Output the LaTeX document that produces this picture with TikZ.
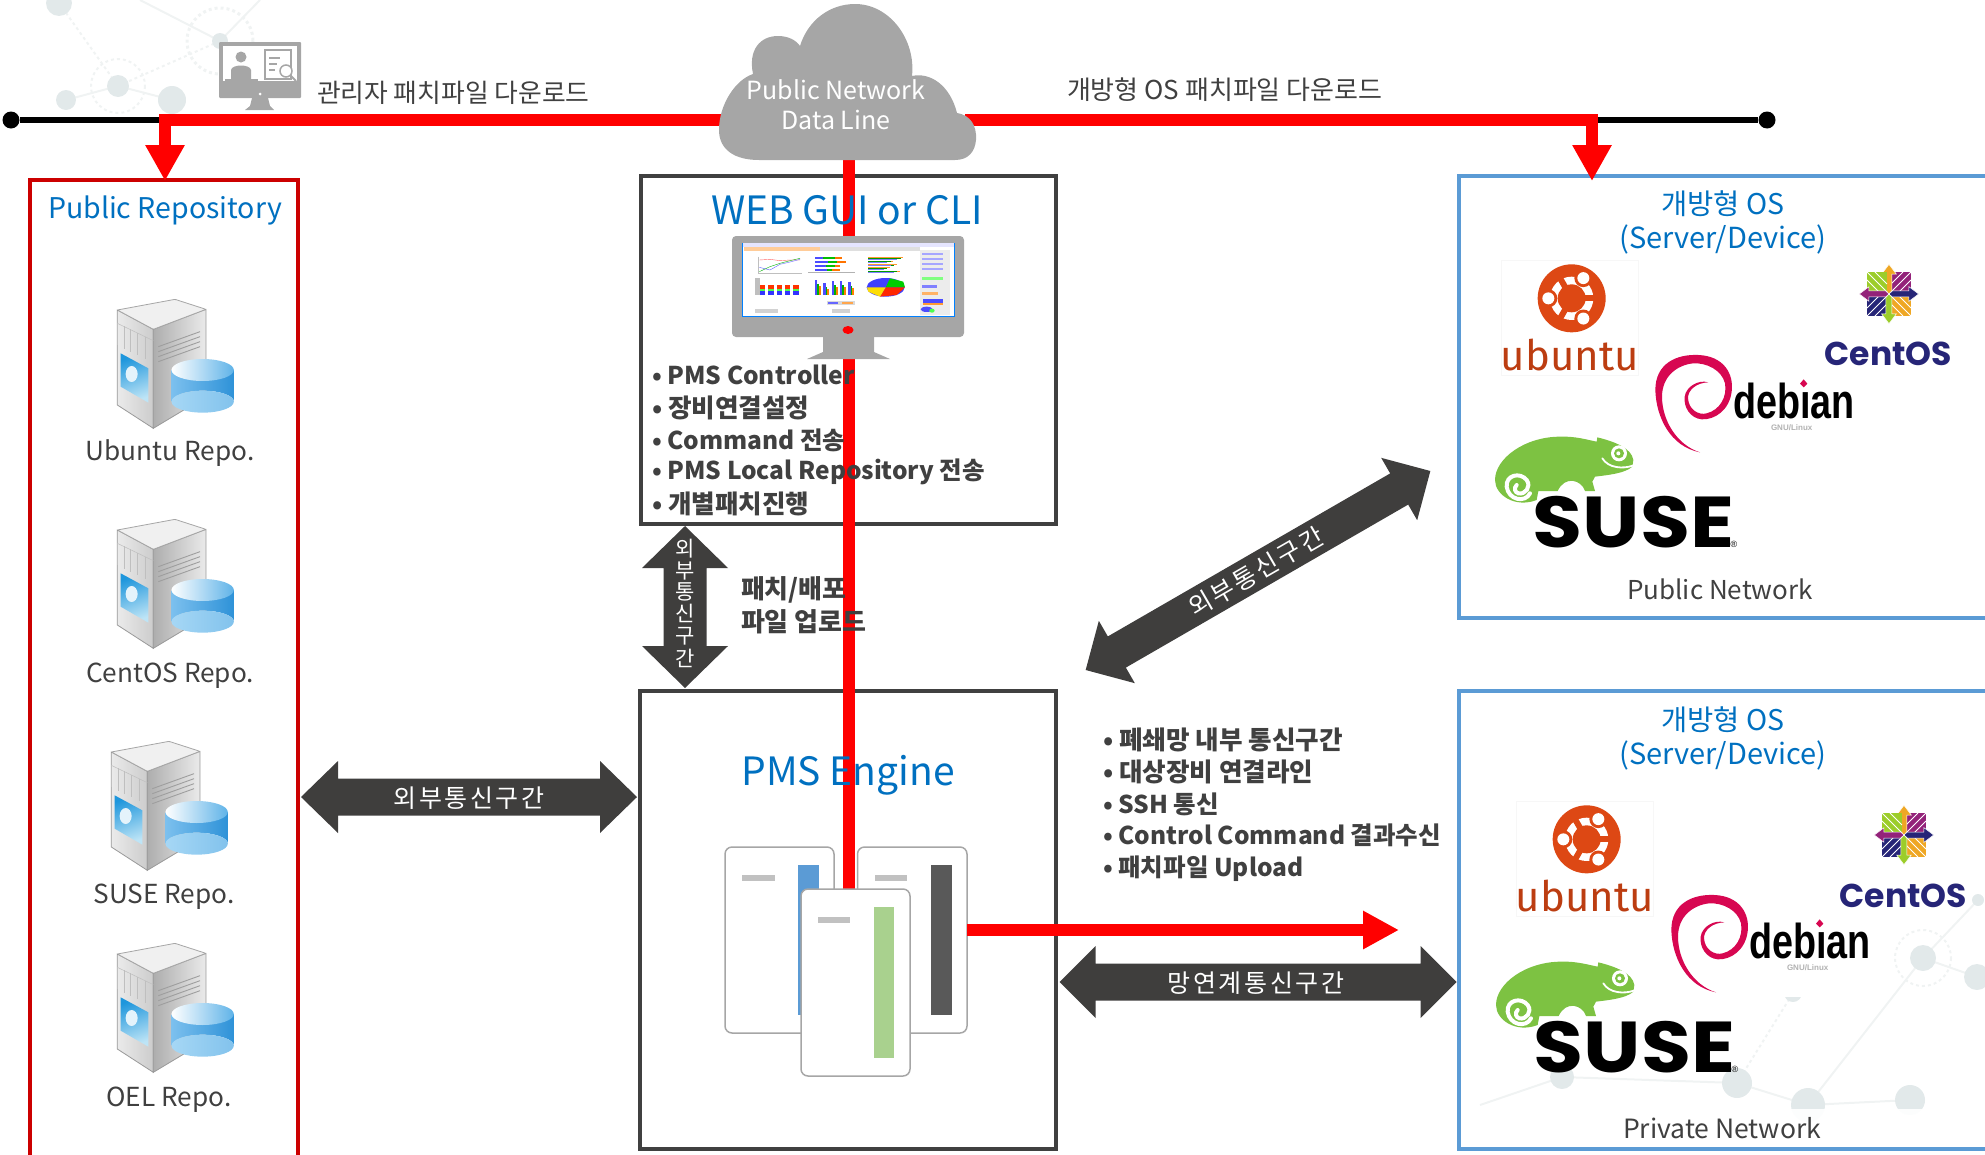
\documentclass[tikz,border=0pt]{standalone}
\usepackage{fontspec}
\setmainfont{Noto Sans CJK KR}
\newfontfamily\popf{Poppins}
\newfontfamily\firaf{Fira Sans}
\newfontfamily\libf{Liberation Sans}
\usetikzlibrary{arrows.meta,shadings}
\definecolor{dk}{HTML}{404040}
\definecolor{arrowdk}{HTML}{3F3E3D}
\definecolor{blu}{HTML}{0070C0}
\definecolor{lblue}{HTML}{5B9BD5}
\definecolor{rd}{HTML}{FF0000}
\definecolor{repo}{HTML}{CC0000}
\definecolor{gy}{HTML}{A6A6A6}
\definecolor{netc}{HTML}{E2E9EA}
\definecolor{netl}{HTML}{F0F3F3}
\definecolor{ubo}{HTML}{DD4814}
\definecolor{cnavy}{HTML}{262577}
\definecolor{cpurp}{HTML}{932279}
\definecolor{cgreen}{HTML}{9CCD2A}
\definecolor{corange}{HTML}{EFA724}
\definecolor{debr}{HTML}{D70751}
\definecolor{sgreen}{HTML}{7DC242}
\definecolor{barg}{HTML}{A9D18E}
\definecolor{cylL}{HTML}{7CC0EE}
\definecolor{cylR}{HTML}{2E92D8}
\definecolor{cylB}{HTML}{A6D7F5}
\definecolor{cylT}{HTML}{5FB3E8}
\definecolor{panelT}{HTML}{1E96DC}
\definecolor{panelB}{HTML}{BDE4F6}
\newcommand{\fsz}[1]{\fontsize{#1pt}{#1pt}\selectfont}
\newcommand{\ks}{\kern2.6pt}
\tikzset{
  txt/.style={inner sep=0pt,outer sep=0pt,text=dk},
  bul/.style={txt,anchor=west,font=\fsz{24.5}\bfseries},
  bulk/.style={txt,anchor=west,font=\fsz{25.6}\bfseries},
  title/.style={txt,text=blu},
  arrowlabel/.style={txt,text=white,font=\fsz{25}},
  redline/.style={draw=rd,line width=12pt},
  redarrow/.style={redline,-{Triangle[length=36pt,width=37pt]}},
  card/.style={draw=gy,line width=1.5pt,fill=white,rounded corners=7pt},
  netdot/.style={fill=netc},
  netline/.style={draw=netl,line width=2pt},
  scaled/.style={x=0.3333pt,y=-0.3333pt},
}
% double-headed block arrow: cx, cy, angle, half length, head half width, shaft half width, head length
\newcommand{\dblblock}[7]{
  \fill[arrowdk,shift={(#1,#2)},rotate=#3] (-#4,0) -- (-#4+#7,-#5) -- (-#4+#7,-#6) -- (#4-#7,-#6) -- (#4-#7,-#5) -- (#4,0) -- (#4-#7,#5) -- (#4-#7,#6) -- (-#4+#7,#6) -- (-#4+#7,#5) -- cycle;}
% server with database, local units = 1/3 px
\newcommand{\serverdb}[2]{
\begin{scope}[shift={(#1,#2)},scaled]
  \shade[left color=white!92!black,right color=white!80!black,draw=gray!80,line width=.8pt] (52,60) -- (160,118) -- (160,415) -- (52,345) -- cycle;
  \shade[left color=white!68!black,right color=white!92!black,draw=gray!80,line width=.8pt] (160,118) -- (318,58) -- (318,320) -- (160,415) -- cycle;
  \fill[white!94!black,draw=gray!70,line width=.8pt,rounded corners=1pt] (52,60) -- (225,28) -- (318,58) -- (160,118) -- cycle;
  \foreach \a/\b in {52/98,72/108,92/118,112/128,135/140}{\draw[white!75!black,line width=.5pt] (\a,\b) -- (\a,\b+68);}
  \draw[white!75!black,line width=.5pt] (52,100) -- (160,152);
  \foreach \d in {0,15,30,45}{\draw[white!62!black,line width=.9pt] (175,170+\d) -- (300,125+\d);}
  \shade[top color=panelT,bottom color=panelB,draw=none,shading angle=20] (62,190) -- (145,235) -- (145,338) -- (62,290) -- cycle;
  \fill[white!88!panelT] (95,252) ellipse (18 and 24);
  \shade[left color=cylL,right color=cylR] (215,240) -- (402,240) -- (402,335) arc (0:180:93.5 and -33) -- cycle;
  \shade[left color=cylB,right color=cylB!70!cylR] (308,335) ellipse (93.5 and 33);
  \shade[left color=white,right color=cylT] (308,240) ellipse (93.5 and 33);
\end{scope}}
\newcommand{\ubuntulogo}[2]{
\begin{scope}[shift={(#1,#2)},scaled]
  \fill[white] (108,65) rectangle (520,408);
  \draw[white!97!black,line width=.6pt] (108,65) rectangle (520,408);
  \fill[ubo] (320,178) circle (102);
  \fill[white] (320,178) circle (65);
  \fill[ubo] (320,178) circle (42);
  \foreach \ang in {0,120,240}{\draw[ubo,line width=6pt] (320,178) -- ++({\ang}:70);}
  \foreach \ang in {60,180,300}{
    \fill[ubo] (320,178) ++({70*cos(\ang)},{-70*sin(\ang)}) circle (27);
    \fill[white] (320,178) ++({70*cos(\ang)},{-70*sin(\ang)}) circle (18);}
  \node[txt,text=ubo!85!black,anchor=base,font=\firaf\fsz{42}] at (315,395) {ubuntu};
\end{scope}}
\newcommand{\centoslogo}[2]{
\begin{scope}[shift={(#1,#2)},scaled]
  \begin{scope}[shift={(1272,165)}]
  \foreach \rr/\qc/\ac in {0/cpurp/corange,-90/corange/cnavy,180/cnavy/cgreen,90/cgreen/cpurp}{
    \begin{scope}[rotate=\rr]
      \fill[\qc] (6,-6) -- (66,-6) -- (66,-66) -- (6,-66) -- cycle;
      \draw[white,line width=.8pt] (6,-6) -- (66,-66);
      \draw[white,line width=.8pt] (30,-6) -- (66,-42) (6,-30) -- (42,-66);
      \fill[\ac,draw=white,line width=.5pt] (0,0) -- (-9,-10) -- (-9,-60) -- (-22,-60) -- (0,-89) -- (22,-60) -- (9,-60) -- (9,-10) -- cycle;
    \end{scope}}
  \end{scope}
  \node[txt,text=cnavy,anchor=base,font=\popf\fsz{33}\bfseries] at (1270,381) {CentOS};
\end{scope}}
\newcommand{\debianlogo}[2]{
\begin{scope}[shift={(#1,#2)},scaled]
  \fill[white] (30,295) rectangle (650,620);
  \fill[debr] (180,607) .. controls (90,590) and (48,500) .. (46,420) .. controls (46,340) and (110,312) .. (175,315) .. controls (250,318) and (282,370) .. (275,425) .. controls (268,480) and (225,510) .. (185,508) .. controls (150,505) and (130,470) .. (134,440) .. controls (138,410) and (175,388) .. (205,397) .. controls (170,398) and (143,420) .. (144,445) .. controls (146,478) and (175,497) .. (200,490) .. controls (240,480) and (262,440) .. (255,400) .. controls (245,360) and (200,338) .. (160,340) .. controls (110,345) and (66,380) .. (66,440) .. controls (66,510) and (110,585) .. (180,607) -- cycle;
  \node[txt,text=black,anchor=base,xscale=.77,font=\libf\fsz{49}\bfseries] at (462,505) {deb^^^^0131an};
  \fill[debr] (491,388) -- (502,401) -- (491,412) -- (480,401) -- cycle;
  \node[txt,text=gray!60,anchor=base,font=\libf\fsz{8}\bfseries] at (455,543) {GNU/Linux};
\end{scope}}
\newcommand{\suselogo}[2]{
\begin{scope}[shift={(#1,#2)},scaled]
  \fill[sgreen] (155,225) .. controls (90,250) and (30,210) .. (30,165) .. controls (30,100) and (120,35) .. (225,35) .. controls (270,33) and (310,45) .. (335,50) -- (337,37) .. controls (390,50) and (440,70) .. (445,105) -- (442,125) .. controls (420,145) and (370,150) .. (330,155) -- (322,170) -- (330,198) -- (300,198) .. controls (290,165) and (240,150) .. (218,198) -- (160,198) -- cycle;
  \draw[white,line width=4pt,line cap=round] (135,205) .. controls (120,235) and (70,225) .. (65,185) .. controls (62,150) and (105,140) .. (125,165) .. controls (140,185) and (120,210) .. (100,205) .. controls (90,202) and (85,190) .. (95,180);
  \draw[white,line width=1.8pt,line cap=round] (352,100) .. controls (370,130) and (415,132) .. (443,122);
  \fill[white] (402,85) circle (24);
  \fill[sgreen] (402,85) circle (15);
  \fill[white] (400,85) circle (6);
  \node[txt,text=black,anchor=base,xscale=1.13,font=\popf\fsz{72}\bfseries] at (445,368) {SUSE};
  \node[txt,text=black,font=\libf\fsz{9}] at (747,358) {®};
\end{scope}}
\begin{document}
\begin{tikzpicture}[x=1pt,y=-1pt]
\clip (0,0) rectangle (1985,1154);
% faint network background
\begin{scope}
  \draw[netline,dashed] (59,3) -- (118,86);
  \draw[netline] (66,100) -- (118,86) -- (172,100);
  \draw[netline] (140,0) -- (220,41) -- (260,0);
  \draw[netline,dashed] (118,86) -- (220,41);
  \draw[netl,line width=3pt,dashed] (220,41) circle (33);
  \draw[netl,line width=2pt,dashed] (118,86) circle (27);
  \fill[netdot] (59,3) circle (13);
  \fill[netdot] (220,41) circle (8);
  \fill[netdot] (118,86) circle (11);
  \fill[netdot] (66,100) circle (10);
  \fill[netdot] (172,100) circle (14);
  \draw[netline] (1480,1105) -- (1562,1077) -- (1737,1083) -- (1808,1105) -- (1910,1100);
  \draw[netline] (1808,1105) -- (1923,958) -- (1977,977);
  \draw[netline] (1923,958) -- (1978,900);
  \draw[netline,dashed] (1737,1083) -- (1793,993);
  \draw[netl,line width=2pt,dashed] (1923,958) circle (28);
  \fill[netdot] (1923,958) circle (13);
  \fill[netdot] (1977,977) circle (13);
  \fill[netdot] (1978,900) circle (6);
  \fill[netdot] (1737,1083) circle (15);
  \fill[netdot] (1808,1105) circle (17);
  \fill[netdot] (1910,1100) circle (15);
  \fill[netdot] (1562,1077) circle (12);
  \fill[netdot] (1793,993) circle (9);
  \fill[white,opacity=.93] (0,1109) rectangle (1985,1154);
\end{scope}

% network line ends
\node[circle,fill=black,minimum size=17pt,inner sep=0pt] (ldot) at (11,120) {};
\node[circle,fill=black,minimum size=17pt,inner sep=0pt] (rdot) at (1767,120) {};
\draw[black,line width=6pt] (ldot) -- (rdot);

% frames
\draw[repo,line width=4.5pt] (30,1160) -- (30,180) -- (298,180) -- (298,1160);
\draw[dk,line width=4pt] (641,176) rectangle (1056,524);
\draw[dk,line width=4pt] (640,691) rectangle (1056,1149);
\draw[lblue,line width=4.5pt] (1995,176) -- (1459,176) -- (1459,618) -- (1995,618);
\draw[lblue,line width=4.5pt] (1995,691) -- (1459,691) -- (1459,1149) -- (1995,1149);

% red lines
\coordinate (lj) at (159,120);
\coordinate (ljm) at (165,120);
\coordinate (ltip) at (165,181);
\coordinate (cw) at (730,120);
\coordinate (ce) at (965,120);
\coordinate (rj) at (1598,120);
\coordinate (rjm) at (1592,120);
\coordinate (rtip) at (1592,181);
\coordinate (cs) at (849,150);
\coordinate (pe) at (849,900);
\draw[redline] (lj) -- (cw);
\draw[redline] (ce) -- (rj);
\draw[redarrow] (ljm) -- (ltip);
\draw[redarrow] (rjm) -- (rtip);
\draw[redline] (cs) -- (pe);

% cloud
\fill[gy] (759,160) .. controls (735,160) and (719,150) .. (719,130) .. controls (719,105) and (735,80) .. (753,74) .. controls (748,50) and (760,36) .. (778,36) .. controls (788,36) and (796,40) .. (800,46) .. controls (808,20) and (830,4) .. (855,4) .. controls (890,4) and (916,40) .. (912,76) .. controls (930,72) and (950,85) .. (957,113) .. controls (970,115) and (977,125) .. (976,140) .. controls (975,152) and (968,160) .. (955,160) -- cycle;
\node[txt,text=white,font=\fsz{25}] (cl1) at (836,90) {Public Network};
\node[txt,text=white,font=\fsz{25}] (cl2) at (836,120) {Data Line};

% admin monitor icon
\fill[gy,rounded corners=1pt] (219,42) rectangle (301,98);
\fill[white] (223,46) rectangle (297,81);
\fill[gy] (252,98) -- (268,98) -- (270,106) -- (274,110) -- (245,110) -- (250,106) -- cycle;
\fill[white] (260,94) circle (1.5);
\fill[gy] (241,57) circle (5.5);
\fill[gy] (231,81) -- (231,70) .. controls (232,64) and (250,64) .. (251,70) -- (251,81) -- cycle;
\fill[gy] (225,79) rectangle (258,81);
\draw[gy,line width=1.5pt] (265,50) rectangle (291,79);
\draw[gy,line width=1.5pt] (269,58) -- (280,58) (269,64) -- (277,64) (269,70) -- (275,70);
\draw[gy,line width=1.5pt,fill=white] (286,71) circle (6);
\draw[gy,line width=2pt] (290,75) -- (296,81);

% big monitor
\fill[gy,rounded corners=4pt] (732,236) rectangle (964,337);
\fill[gy] (823,337) -- (874,337) -- (874,352) -- (890,359) -- (807,359) -- (823,352) -- cycle;
\fill[rd] (848,330) ellipse (5.5 and 4);
\begin{scope}[shift={(720,230)},scaled]
  \fill[white,draw=blue!50!cyan,line width=.8pt] (68,40) rectangle (702,258);
  \fill[blue!10] (68,40) rectangle (702,50);
  \fill[orange!40] (72,51) rectangle (300,62);
  \fill[gray!25] (300,51) rectangle (600,62);
  \fill[gray!15] (600,60) rectangle (690,256);
  % line chart
  \draw[gray!50,line width=.3pt] (115,80) -- (115,130) -- (245,130);
  \draw[green!70!black,line width=.4pt] (118,125) -- (150,110) -- (180,100) -- (210,92) -- (240,85);
  \draw[red!60,line width=.4pt] (118,90) -- (150,88) -- (180,92) -- (210,90) -- (240,90);
  \draw[blue!60,line width=.4pt] (118,112) -- (150,120) -- (180,103) -- (210,96) -- (240,88);
  % stacked hbars
  \foreach \yy/\a/\b/\c in {80/310/345/365,92/325/350/378,104/318/345/360,116/320/335/360}{
    \fill[blue!70] (285,\yy) rectangle (\a,\yy+8);
    \fill[green!75!black] (\a,\yy) rectangle (\b,\yy+8);
    \fill[orange!90!red] (\b,\yy) rectangle (\c,\yy+8);}
  \fill[gray!60] (265,126) rectangle (405,130);
  % hlines
  \foreach \yy/\a in {82/550,92/520,102/530,112/510,122/540}{
    \fill[orange!80] (445,\yy) rectangle (\a,\yy+2);
    \fill[green!60!black] (445,\yy+2) rectangle (\a-8,\yy+4);
    \fill[blue!50] (445,\yy+4) rectangle (\a-18,\yy+6);}
  % stacked columns
  \foreach \xx in {120,145,170,195,220}{
    \fill[blue!80] (\xx,182) rectangle (\xx+16,196);
    \fill[green!70] (\xx,176) rectangle (\xx+16,182);
    \fill[red!60!orange] (\xx,164) rectangle (\xx+16,176);}
  \fill[gray!50] (105,145) rectangle (120,195);
  % grouped columns
  \foreach \xx/\hh in {285/150,310/160,335/152,360/152,385/155}{
    \fill[blue!70] (\xx,\hh) rectangle (\xx+7,195);
    \fill[green!70!black] (\xx+7,\hh+12) rectangle (\xx+12,195);
    \fill[orange] (\xx+12,\hh+18) rectangle (\xx+18,195);}
  % pie
  \fill[blue!75] (497,172) ellipse (57 and 28);
  \fill[green!80!black] (497,172) -- (510,145) -- (550,155) -- (555,172) -- cycle;
  \fill[red!70!orange] (497,172) -- (555,172) -- (530,195) -- (480,200) -- cycle;
  \fill[yellow!80!orange] (497,172) -- (480,200) -- (445,185) -- (441,172) -- cycle;
  % legend and buttons
  \fill[gray!30] (320,212) rectangle (405,226);
  \fill[blue!60] (325,215) rectangle (355,222);
  \fill[orange!70] (365,215) rectangle (400,222);
  \fill[gray!35] (105,238) rectangle (175,248);
  \fill[gray!35] (335,238) rectangle (390,248);
  % right panel
  \foreach \yy in {70,85,100,115}{\fill[blue!35] (605,\yy) rectangle (670,\yy+5);}
  \fill[green!50] (605,140) rectangle (670,150);
  \fill[blue!50] (605,165) rectangle (650,175);
  \fill[orange!60] (605,185) rectangle (655,195);
  \fill[blue!70] (608,208) rectangle (670,218);
  \fill[orange!80] (608,218) rectangle (670,224);
  \fill[blue!70] (620,238) ellipse (18 and 8);
  \fill[green!70] (636,242) ellipse (8 and 6);
\end{scope}

% PMS server cards
\draw[card] (725,847) rectangle (834,1033);
\fill[lblue] (798,865) rectangle (819,1015);
\fill[gy!70] (742,875) rectangle (775,881);
\draw[card] (857.5,847) rectangle (967,1033);
\fill[white!35!black] (931,865) rectangle (952,1015);
\fill[gy!70] (875,875) rectangle (907,881);
\draw[card] (801,889) rectangle (910,1076);
\fill[barg] (874,907) rectangle (894,1058);
\fill[gy!70] (818,917) rectangle (850,923);
\coordinate (ps) at (967,930);
\coordinate (pt) at (1399,930);
\draw[redline,-{Triangle[length=36pt,width=36pt]}] (ps) -- (pt);

% double arrows
\dblblock{469}{797}{0}{168}{36}{18.5}{37}
\node[arrowlabel] (a1) at (469,798) {외\ks 부\ks 통\ks 신\ks 구\ks 간};
\dblblock{1258}{570.5}{30}{199}{36}{18}{36}
\node[arrowlabel,rotate=30] (a2t) at (1256,572) {외\ks 부\ks 통\ks 신\ks 구\ks 간};
\dblblock{1258}{982}{0}{198.5}{36}{18.5}{36}
\node[arrowlabel] (a3t) at (1256,983) {망\ks 연\ks 계\ks 통\ks 신\ks 구\ks 간};
\dblblock{685}{607}{90}{81}{43}{21.5}{42}
\foreach \ch/\yy in {외/549,부/571,통/592,신/613,구/636,간/658}{
  \node[txt,text=white,font=\fsz{21}] at (685,\yy) {\ch};}

% titles
\node[title,font=\fsz{28.5}] (t1) at (165,210.5) {Public Repository};
\node[title,font=\fsz{39}] (t2) at (847,210.5) {WEB GUI or CLI};
\node[title,font=\fsz{39}] (t3) at (848,775) {PMS Engine};
\node[title,font=\fsz{28.5}] (t4) at (1723,204) {개방형 OS};
\node[title,font=\fsz{29}] (t5) at (1723,239) {(Server/Device)};
\node[title,font=\fsz{28.5}] (t6) at (1723,720) {개방형 OS};
\node[title,font=\fsz{29}] (t7) at (1723,755) {(Server/Device)};

% top labels
\node[txt,anchor=west,font=\fsz{25.8}] (d1) at (317,93) {관리자 패치파일 다운로드};
\node[txt,anchor=west,font=\fsz{26}] (d2) at (1067,90) {개방형 OS 패치파일 다운로드};

% repositories
\serverdb{100}{290}
\node[txt,font=\fsz{26.2}] (r1) at (170,453) {Ubuntu Repo.};
\serverdb{100}{510}
\node[txt,font=\fsz{26.2}] (r2) at (170,676) {CentOS Repo.};
\serverdb{94}{732}
\node[txt,font=\fsz{26.2}] (r3) at (164,897) {SUSE Repo.};
\serverdb{100}{934}
\node[txt,font=\fsz{26.2}] (r4) at (169,1100) {OEL Repo.};

% bullet lists
\node[bul] (b1) at (652,375) {• PMS Controller};
\node[bulk] (b2) at (652,408) {• 장비연결설정};
\node[bul] (b3) at (652,440) {• Command 전송};
\node[bul] (b4) at (652,472) {• PMS Local Repository 전송};
\node[bulk] (b5) at (652,504) {• 개별패치진행};
\node[bulk] (c1) at (1103,740) {• 폐쇄망 내부 통신구간};
\node[bulk] (c2) at (1103,772) {• 대상장비 연결라인};
\node[bul] (c3) at (1103,804) {• SSH 통신};
\node[bul] (c4) at (1103,835) {• Control Command 결과수신};
\node[bul] (c5) at (1103,869) {• 패치파일 Upload};
\node[bul,font=\fsz{26}\bfseries] (u1) at (741,590) {패치/배포};
\node[bul,font=\fsz{26}\bfseries] (u2) at (741,622) {파일 업로드};

% logos
\debianlogo{1640}{250}
\debianlogo{1656}{790}
\ubuntulogo{1465}{239}
\centoslogo{1465}{239}
\suselogo{1485}{425}
\ubuntulogo{1480}{780}
\centoslogo{1480}{780}
\suselogo{1486}{950}
\node[txt,font=\fsz{26}] (n1) at (1720,589) {Public Network};
\node[txt,font=\fsz{26.5}] (n2) at (1722,1128) {Private Network};
\end{tikzpicture}
\end{document}
